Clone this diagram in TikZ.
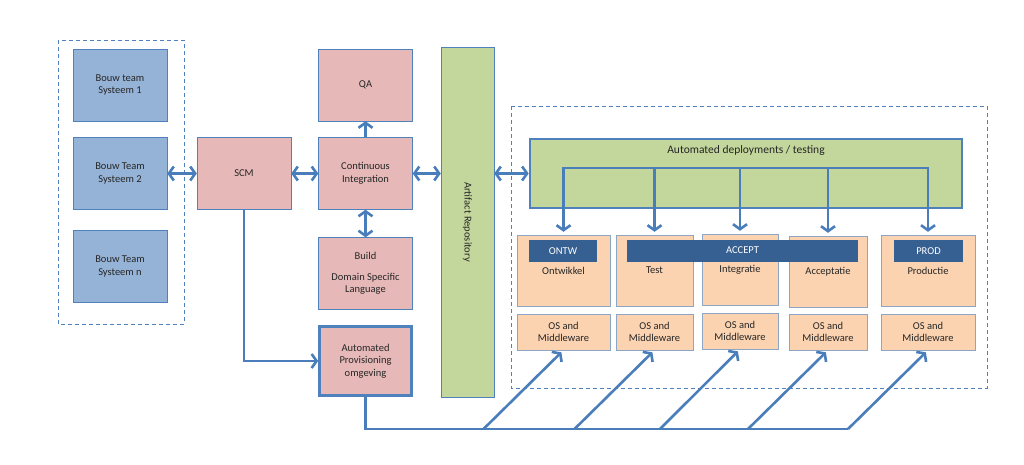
\documentclass[tikz,border=0pt]{standalone}
\usepackage{fontspec}
\setmainfont{Carlito}
\usetikzlibrary{arrows.meta}

\definecolor{boxline}{HTML}{4F81BD}
\definecolor{linkblue}{HTML}{4A7EBB}
\definecolor{teamblue}{HTML}{95B3D7}
\definecolor{scmpink}{HTML}{E6B9B8}
\definecolor{repogreen}{HTML}{C3D69B}
\definecolor{envpeach}{HTML}{FBD3B1}
\definecolor{envline}{HTML}{8DA6C6}
\definecolor{tagblue}{HTML}{376092}

\begin{document}
\begin{tikzpicture}[x=1pt,y=-1pt]
\tikzstyle{every node}=[font=\fontsize{10.5}{12.5}\selectfont, align=center, inner sep=0pt, text=black!85]
\tikzstyle{team}=[draw=boxline, fill=teamblue, minimum width=94, minimum height=72]
\tikzstyle{tool}=[draw=boxline, fill=scmpink, minimum width=94, minimum height=72]
\tikzstyle{env}=[draw=envline, fill=envpeach, minimum height=71]
\tikzstyle{osbox}=[draw=envline, fill=envpeach, minimum height=36]
\tikzstyle{tag}=[fill=tagblue, text=white, minimum height=22]
\tikzstyle{group}=[draw=boxline, dash pattern=on 4pt off 3pt, line width=0.7pt]
\tikzstyle{flow}=[draw=linkblue, line width=2.6pt, arrows={-Straight Barb[length=5pt,width=14pt]}]
\tikzstyle{flow2}=[draw=linkblue, line width=2.6pt, arrows={Straight Barb[length=5pt,width=14pt]-Straight Barb[length=5pt,width=14pt]}]

\useasboundingbox (0,0) rectangle (1024,464);

% teams
\draw[group] (58,40) rectangle (184,324);
\node[team] (team1) at (120,85) {Bouw team\\Systeem 1};
\node[team] (team2) at (120,173.5) {Bouw Team\\Systeem 2};
\node[team] (teamn) at (120,266.5) {Bouw Team\\Systeem n};

% tools
\node[tool] (scm) at (244,173.5) {SCM};
\node[tool] (ci) at (365.5,173.5) {Continuous\\Integration};
\node[tool] (qa) at (365.5,85) {QA};
\node[tool] (build) at (365.5,273.5) {Build\\[8pt]Domain Specific\\Language};
\node[tool, line width=2.6pt, minimum width=92, minimum height=69] (prov) at (365.5,361) {Automated\\Provisioning\\omgeving};
\node[draw=boxline, fill=repogreen, minimum width=53, minimum height=350] (repo) at (467.5,222) {};
\node[rotate=-90] at (repo.center) {Artifact Repository};

% omgevingen
\draw[group] (511,106) rectangle (987,388);
\node[draw=boxline, line width=2.6pt, fill=repogreen, minimum width=432, minimum height=69] (auto) at (746,173.5) {};
\node[font=\fontsize{11.5}{13}\selectfont] at (746,150) {Automated deployments / testing};

\node[env, minimum width=93] (ontw) at (563.5,270.5) {Ontwikkel};
\node[env, minimum width=77] (test) at (654.5,270.5) {Test};
\node[env, minimum width=76] (integ) at (740,269.5) {Integratie};
\node[env, minimum width=78] (accept) at (828,271.5) {Acceptatie};
\node[env, minimum width=94] (prod) at (928,270.5) {Productie};

\node[osbox, minimum width=93] (osontw) at (563.5,332) {OS and\\Middleware};
\node[osbox, minimum width=77] (ostest) at (654.5,332) {OS and\\Middleware};
\node[osbox, minimum width=76] (osinteg) at (740,331) {OS and\\Middleware};
\node[osbox, minimum width=78] (osaccept) at (828,332) {OS and\\Middleware};
\node[osbox, minimum width=94] (osprod) at (928,332) {OS and\\Middleware};

\node[tag, minimum width=68] (tagontw) at (563,251) {ONTW};
\node[tag, minimum width=231] (tagaccept) at (742.5,250.5) {ACCEPT};
\node[tag, minimum width=69] (tagprod) at (928.5,251) {PROD};

% verbindingen
\draw[flow2] (team2.east) -- (scm.west);
\draw[flow2] (scm.east) -- (ci.west);
\draw[flow] (ci.north) -- (qa.south);
\draw[flow2] (ci.south) -- (build.north);
\draw[flow2] (ci.east) -- (ci.east -| repo.west);
\draw[flow2] (auto.west -| repo.east) -- (auto.west);
\draw[flow] (scm.south) |- (prov.west);

\coordinate (bus) at (0,168);
\draw[flow2, shorten <=3pt, shorten >=3pt] (ontw.north) -- (ontw.north |- bus) -- (prod.north |- bus) -- (prod.north);
\foreach \e in {test,integ,accept}
  \draw[flow, shorten >=3pt] (\e.north |- bus) -- (\e.north);

\coordinate (rail) at (848,429);
\draw[draw=linkblue, line width=2.6pt] (prov.south) |- (rail);
\foreach \o in {osontw,ostest,osinteg,osaccept,osprod}
  \draw[flow, shorten >=3pt] (\o.south |- rail) ++(-80,0) -- (\o.south);
\end{tikzpicture}
\end{document}
